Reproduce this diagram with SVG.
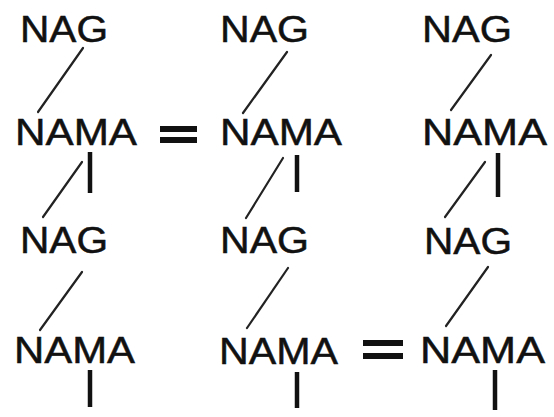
<svg xmlns="http://www.w3.org/2000/svg" width="554" height="417" viewBox="0 0 554 417">
<style>
.t{font-family:"Liberation Sans",Arial,sans-serif;font-size:37px;fill:#111;stroke:#111;stroke-width:0.5px;}
.s{stroke:#222;stroke-width:2.2;stroke-linecap:round;fill:none;}
.v{stroke:#111;stroke-width:4.5;stroke-linecap:butt;fill:none;}
.eq{fill:#111;}
</style>
<rect width="554" height="417" fill="#fff"/>
<g id="n-r1c1"><text class="t" x="20" y="42" textLength="88" lengthAdjust="spacingAndGlyphs">NAG</text></g>
<g id="n-r1c2"><text class="t" x="220" y="42" textLength="89" lengthAdjust="spacingAndGlyphs">NAG</text></g>
<g id="n-r1c3"><text class="t" x="422" y="42" textLength="90" lengthAdjust="spacingAndGlyphs">NAG</text></g>
<g id="n-r2c1"><text class="t" x="15" y="145" textLength="122" lengthAdjust="spacingAndGlyphs">NAMA</text></g>
<g id="n-r2c2"><text class="t" x="220" y="145" textLength="122" lengthAdjust="spacingAndGlyphs">NAMA</text></g>
<g id="n-r2c3"><text class="t" x="422" y="145" textLength="125" lengthAdjust="spacingAndGlyphs">NAMA</text></g>
<g id="n-r3c1"><text class="t" x="20" y="253" textLength="88" lengthAdjust="spacingAndGlyphs">NAG</text></g>
<g id="n-r3c2"><text class="t" x="220" y="253" textLength="89" lengthAdjust="spacingAndGlyphs">NAG</text></g>
<g id="n-r3c3"><text class="t" x="424" y="254" textLength="88" lengthAdjust="spacingAndGlyphs">NAG</text></g>
<g id="n-r4c1"><text class="t" x="14" y="363" textLength="121" lengthAdjust="spacingAndGlyphs">NAMA</text></g>
<g id="n-r4c2"><text class="t" x="219" y="364" textLength="119" lengthAdjust="spacingAndGlyphs">NAMA</text></g>
<g id="n-r4c3"><text class="t" x="420" y="363" textLength="125" lengthAdjust="spacingAndGlyphs">NAMA</text></g>
<g id="eq1"><rect class="eq" x="160" y="126" width="37" height="6"/><rect class="eq" x="160" y="137" width="37" height="6"/></g>
<g id="eq2"><rect class="eq" x="363" y="340" width="40" height="6"/><rect class="eq" x="363" y="353" width="40" height="6"/></g>
<g id="connectors">
<line class="s" x1="83" y1="48" x2="38" y2="112"/>
<line class="s" x1="287" y1="52" x2="243" y2="113"/>
<line class="s" x1="491" y1="55" x2="451" y2="110"/>
<line class="s" x1="82" y1="162" x2="43" y2="217"/>
<line class="s" x1="283" y1="158" x2="246" y2="218"/>
<line class="s" x1="485" y1="162" x2="445" y2="217"/>
<line class="s" x1="82" y1="272" x2="40" y2="330"/>
<line class="s" x1="288" y1="268" x2="247" y2="328"/>
<line class="s" x1="488" y1="267" x2="446" y2="326"/>
<line class="v" x1="90" y1="152" x2="90" y2="193"/>
<line class="v" x1="297" y1="155" x2="297" y2="192"/>
<line class="v" x1="498" y1="153" x2="498" y2="197"/>
<line class="v" x1="90" y1="370" x2="90" y2="407"/>
<line class="v" x1="297" y1="372" x2="297" y2="408"/>
<line class="v" x1="495" y1="370" x2="495" y2="410"/>
</g>
</svg>
